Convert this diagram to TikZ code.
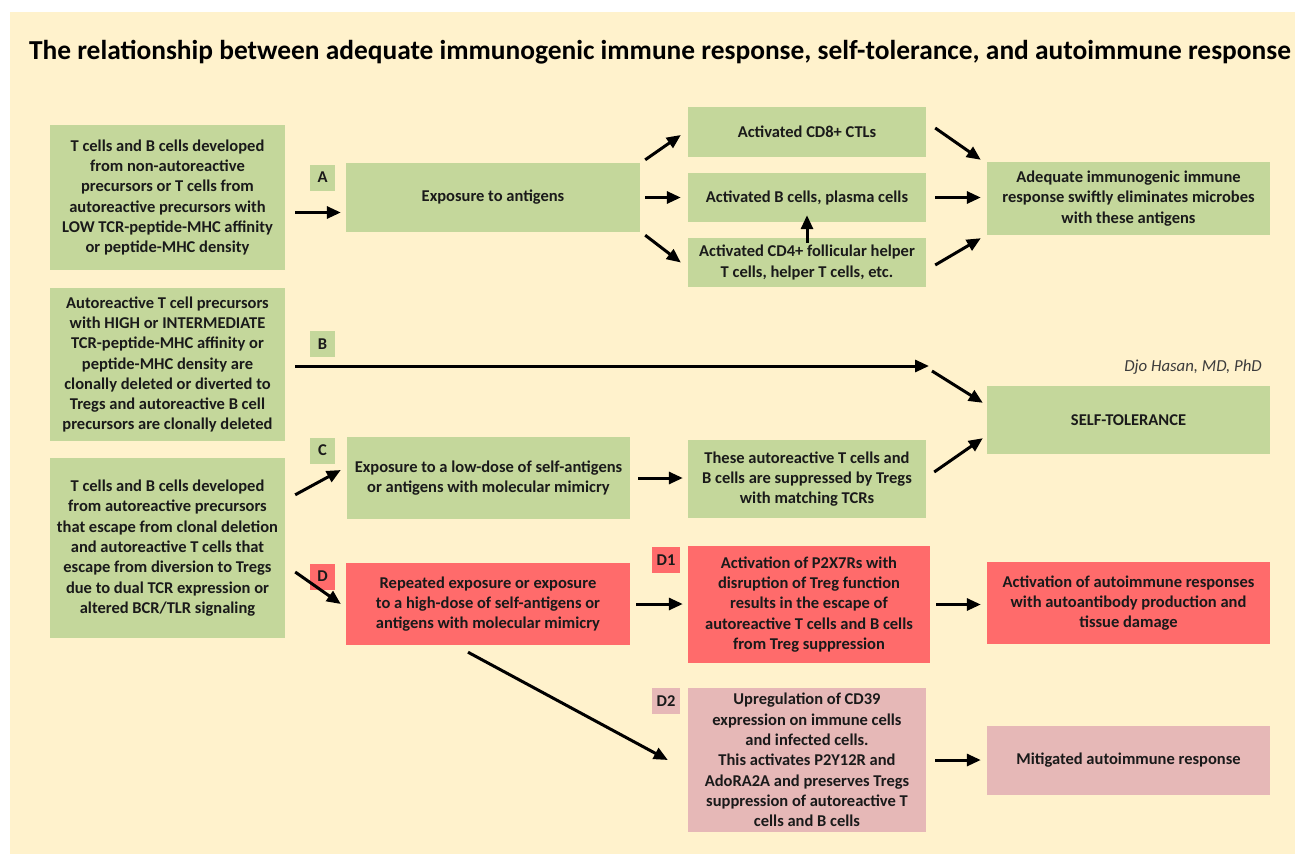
\documentclass[tikz,border=0pt]{standalone}
\usepackage{fontspec}
\setmainfont{Carlito}
\usetikzlibrary{arrows.meta,calc}
\definecolor{bg}{HTML}{FFF2CC}
\definecolor{gr}{HTML}{C4D79B}
\definecolor{rd}{HTML}{FF6B6B}
\definecolor{pk}{HTML}{E6B8B7}
\definecolor{tx}{HTML}{1A1A1A}
\tikzset{
  box/.style={inner sep=0pt, align=center, text=tx, font=\fontsize{16.5}{20.3}\selectfont\bfseries},
  gbox/.style={box, fill=gr},
  rbox/.style={box, fill=rd},
  pbox/.style={box, fill=pk},
  lab/.style={box, minimum width=25pt, minimum height=26pt},
  arr/.style={line width=3pt, draw=black, -{Triangle[length=14pt,width=12pt]}},
}
\begin{document}
\begin{tikzpicture}[x=1pt,y=-1pt]
\useasboundingbox (0,0) rectangle (1295,854);
\fill[white] (0,0) rectangle (1295,854);
\fill[bg] (10,12) rectangle (1295,854);

\node[box, font=\fontsize{27.4}{30}\selectfont\bfseries, text=black] (title) at (660,52)
  {The relationship between adequate immunogenic immune response, self-tolerance, and autoimmune response};

% left column
\node[gbox, minimum width=235pt, minimum height=145pt] (b1) at (167.5,197.5)
  {T cells and B cells developed\\from non-autoreactive\\precursors or T cells from\\autoreactive precursors with\\LOW TCR-peptide-MHC affinity\\or peptide-MHC density};
\node[gbox, minimum width=235pt, minimum height=153pt] (b2) at (167.5,364.5)
  {Autoreactive T cell precursors\\with HIGH or INTERMEDIATE\\TCR-peptide-MHC affinity or\\peptide-MHC density are\\clonally deleted or diverted to\\Tregs and autoreactive B cell\\precursors are clonally deleted};
\node[gbox, minimum width=235pt, minimum height=180pt] (b3) at (167.5,548)
  {T cells and B cells developed\\from autoreactive precursors\\that escape from clonal deletion\\and autoreactive T cells that\\escape from diversion to Tregs\\due to dual TCR expression or\\altered BCR/TLR signaling};

% labels
\node[lab, fill=gr] (lA) at (322.5,177.5) {A};
\node[lab, fill=gr] (lB) at (322.5,344) {B};
\node[lab, fill=gr] (lC) at (322.5,450.5) {C};
\node[lab, fill=rd] (lD) at (322.5,576.5) {D};
\node[lab, fill=rd, minimum width=28pt] (lD1) at (666,560) {D1};
\node[lab, fill=pk, minimum width=28pt] (lD2) at (666,701) {D2};

% second column
\node[gbox, minimum width=294pt, minimum height=69pt] (expo) at (493,197.5) {Exposure to antigens};
\node[gbox, minimum width=283pt, minimum height=82pt] (low) at (488.5,478)
  {Exposure to a low-dose of self-antigens\\or antigens with molecular mimicry};
\node[rbox, minimum width=284pt, minimum height=82pt] (rep) at (488,604)
  {Repeated exposure or exposure\\to a high-dose of self-antigens or\\antigens with molecular mimicry};

% third column
\node[gbox, minimum width=238pt, minimum height=50pt] (cd8) at (807,132) {Activated CD8+ CTLs};
\node[gbox, minimum width=238pt, minimum height=49pt] (bcell) at (807,197.5) {Activated B cells, plasma cells};
\node[gbox, minimum width=238pt, minimum height=49pt] (cd4) at (807,262.5)
  {Activated CD4+ follicular helper\\T cells, helper T cells, etc.};
\node[gbox, minimum width=238pt, minimum height=78pt] (these) at (807,479)
  {These autoreactive T cells and\\B cells are suppressed by Tregs\\with matching TCRs};
\node[rbox, minimum width=242pt, minimum height=117pt] (d1) at (809,604.5)
  {Activation of P2X7Rs with\\disruption of Treg function\\results in the escape of\\autoreactive T cells and B cells\\from Treg suppression};
\node[pbox, minimum width=238pt, minimum height=144pt] (d2) at (807,760)
  {Upregulation of CD39\\expression on immune cells\\and infected cells.\\This activates P2Y12R and\\AdoRA2A and preserves Tregs\\suppression of autoreactive T\\cells and B cells};

% right column
\node[gbox, minimum width=283pt, minimum height=73pt] (adeq) at (1128.5,198.5)
  {Adequate immunogenic immune\\response swiftly eliminates microbes\\with these antigens};
\node[gbox, minimum width=283pt, minimum height=68pt] (self) at (1128.5,420) {SELF-TOLERANCE};
\node[rbox, minimum width=283pt, minimum height=82pt] (act) at (1128.5,603)
  {Activation of autoimmune responses\\with autoantibody production and\\tissue damage};
\node[pbox, minimum width=283pt, minimum height=69pt] (mit) at (1128.5,760.5) {Mitigated autoimmune response};

\node[inner sep=0pt, anchor=east, text=tx!85, font=\fontsize{16.8}{18}\selectfont\itshape] (author) at (1262,367) {Djo Hasan, MD, PhD};

% arrows
\draw[arr] ([xshift=10pt,yshift=-15pt]b1.east) -- ([xshift=-5pt,yshift=-15pt]expo.west);
\draw[arr] ([xshift=5pt,yshift=3pt]expo.north east) -- ([xshift=-7pt,yshift=-3pt]cd8.west);
\draw[arr] ([xshift=5pt]expo.east) -- ([xshift=-7pt]bcell.west);
\draw[arr] ([xshift=5pt,yshift=-3pt]expo.south east) -- ([xshift=-7pt]cd4.west);
\draw[arr] ([yshift=-5pt]cd4.north) -- ([yshift=7pt]bcell.south);
\draw[arr] ([xshift=9pt,yshift=4pt]cd8.east) -- ([xshift=-6pt,yshift=2pt]adeq.north west);
\draw[arr] ([xshift=9pt]bcell.east) -- ([xshift=-6pt]bcell.east -| adeq.west);
\draw[arr] ([xshift=9pt,yshift=-2.5pt]cd4.east) -- ([xshift=-6pt,yshift=-3pt]adeq.south west);

\coordinate (bend) at (929,366);
\coordinate (bstart) at (932,371);
\draw[arr] ([xshift=10pt,yshift=-1.5pt]b2.east) -- (bend);
\draw[arr] (bstart) -- ([xshift=-4pt,yshift=-17pt]self.north west);

\draw[arr] ([xshift=10pt,yshift=-37pt]b3.north east) -- ([xshift=-6pt,yshift=8pt]low.west);
\draw[arr] ([xshift=8pt]low.east) -- ([xshift=-5pt]low.east -| these.west);
\draw[arr] ([xshift=8pt,yshift=7pt]these.east) -- ([xshift=-4pt,yshift=16pt]self.south west);

\draw[arr] ([xshift=10pt,yshift=-24pt]b3.east) -- ([xshift=-5pt]rep.west);
\draw[arr] ([xshift=6pt]rep.east) -- ([xshift=-5pt]rep.east -| d1.west);
\draw[arr] ([xshift=6pt]d1.east) -- ([xshift=-6pt]d1.east -| act.west);
\draw[arr] ([xshift=-20pt,yshift=-7pt]rep.south) -- ([xshift=-20pt]d2.west);
\draw[arr] ([xshift=9pt]d2.east) -- ([xshift=-6pt]d2.east -| mit.west);
\end{tikzpicture}
\end{document}
